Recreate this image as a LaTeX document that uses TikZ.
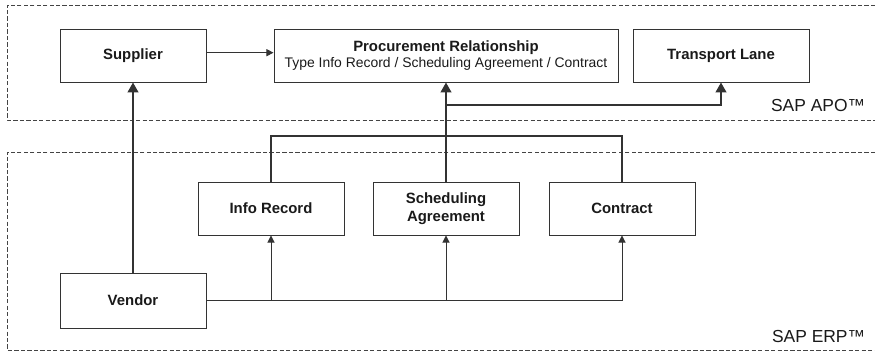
\documentclass[tikz,border=0pt]{standalone}
\usepackage{fontspec}
\setmainfont{Liberation Sans}
\usepackage{xcolor}
\usepackage{tikz}
\usetikzlibrary{
  arrows.meta,
  positioning,
}
\definecolor{ink}{HTML}{1A1A1A}
\definecolor{frame}{HTML}{333333}
\definecolor{zone}{HTML}{444444}
\tikzset{
  font=\fontsize{10}{12}\selectfont,
  every node/.append style={text=ink},
  box/.style={
    draw=frame,
    line width=0.7pt,
    minimum width=3.65cm,
    minimum height=1.325cm,
    align=center,
    font=\fontsize{10.6}{12.6}\selectfont\bfseries,
  },
  region/.style={draw=zone, line width=0.6pt, dash pattern=on 3pt off 1.6pt},
  tag/.style={font=\fontsize{12.4}{14}\selectfont, anchor=east},
  bus/.style={draw=frame, line width=1.5pt, -{Triangle[length=7pt,width=7.5pt]}},
  link/.style={draw=frame, line width=0.7pt, -{Triangle[length=5pt,width=5pt]}},
}

\begin{document}
\begin{tikzpicture}[x=1cm,y=1cm]
  \useasboundingbox (0,0) rectangle (21.875,8.775);
  \fill[white] (0,0) rectangle (21.875,8.775);

  % planning and execution layers
  \draw[region] (22.2,8.65) -- (0.175,8.65) -- (0.175,5.775) -- (22.2,5.775);
  \draw[region] (22.2,4.975) -- (0.175,4.975) -- (0.175,0.025) -- (22.2,0.025);
  \node[tag] (apo) at (21.75,6.125) {SAP APO™};
  \node[tag] (erp) at (21.75,0.375) {SAP ERP™};

  % APO master data
  \node[box] (supplier) at (3.325,7.3875) {Supplier};
  \node[box, minimum width=8.6cm] (proc) at (11.15,7.3875)
    {Procurement Relationship\\[-1pt]{\mdseries\fontsize{9.9}{12}\selectfont Type Info Record / Scheduling Agreement / Contract}};
  \node[box, minimum width=4.4cm] (lane) at (18.025,7.3875) {Transport Lane};

  % ERP master data
  \node[box] (info) at (6.775,3.5625) {Info Record};
  \node[box] (sched) at (11.15,3.5625) {Scheduling\\Agreement};
  \node[box] (contract) at (15.55,3.5625) {Contract};
  \node[box, minimum height=1.375cm] (vendor) at (3.325,1.2625) {Vendor};

  \coordinate (erpbus) at (0,5.375);
  \coordinate (apobus) at (0,6.15);

  % transfer to APO
  \draw[bus] (vendor.north) -- (supplier.south);
  \draw[bus,-] (info.north) |- (contract.north |- erpbus) -- (contract.north);
  \draw[bus] (sched.north) -- (proc.south);
  \draw[bus] (sched.north |- apobus) -| (lane.south);
  \draw[link] ([yshift=2pt]supplier.east) -- ([yshift=2pt]proc.west);

  % vendor references
  \draw[link] (vendor.east) -| (contract.south);
  \draw[link] (info.south |- vendor.east) -- (info.south);
  \draw[link] (sched.south |- vendor.east) -- (sched.south);
\end{tikzpicture}
\end{document}
